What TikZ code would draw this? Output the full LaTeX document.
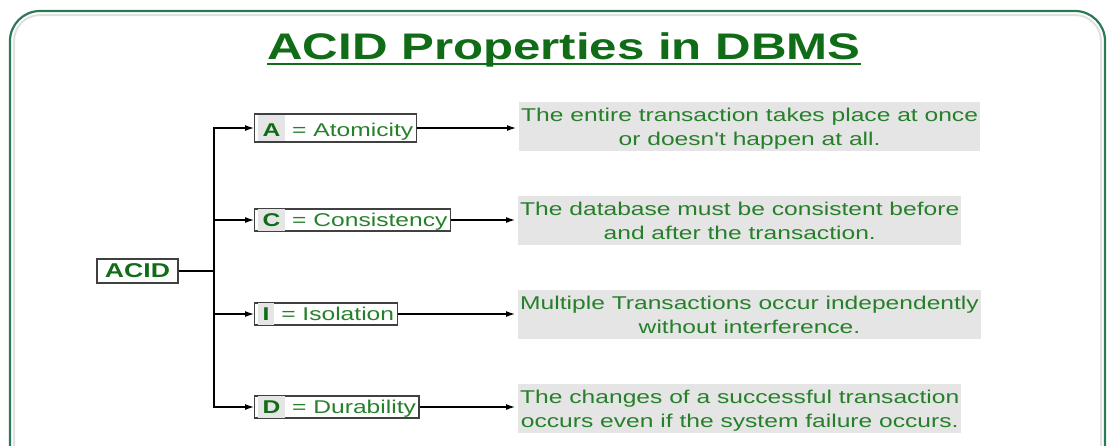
\documentclass[tikz,border=0pt]{standalone}
\usepackage{fontspec}
\setmainfont{Liberation Sans}[FakeStretch=1.33, Ligatures=TeXOff]
\usetikzlibrary{arrows.meta}

\definecolor{titlegreen}{RGB}{16,108,22}
\definecolor{txtgreen}{RGB}{38,128,42}
\definecolor{framegreen}{RGB}{42,122,86}
\definecolor{descgray}{RGB}{229,229,229}

\newcommand{\keyletter}[2][20pt]{{\setlength{\fboxsep}{1pt}\colorbox{descgray}{\rule[-4pt]{0pt}{#1}\hspace{4pt}\textcolor{titlegreen}{\textbf{#2}}\hspace{4pt}}}}

\begin{document}
\begin{tikzpicture}[x=1pt,y=-1pt]
\tikzset{ >={Latex[length=9pt,width=6pt]}, font=\fontsize{18.5}{24}\selectfont,
  keybox/.style={draw=black!75, line width=1.2pt, inner xsep=3pt, inner ysep=0pt, minimum height=22pt, text=txtgreen, anchor=west},
  descbox/.style={fill=descgray, align=center, inner xsep=2pt, inner ysep=0pt, minimum height=49pt, text depth=0pt, text=txtgreen, anchor=west},
}
\useasboundingbox (0,0) rectangle (1107,445);

% frame
\draw [black!12, line width=2pt, rounded corners=26pt] (14,470) -- (14,15) -- (1101,15) -- (1101,470);
\draw [framegreen, line width=2.2pt, rounded corners=30pt] (10,470) -- (10,11) -- (1105,11) -- (1105,470);

\node [font=\fontsize{37}{40}\selectfont\bfseries, text=titlegreen, inner sep=0pt, anchor=base] (title) at (564,59) {ACID Properties in DBMS};
\draw [titlegreen, line width=2.6pt] ([yshift=-5pt]title.base west) -- ([yshift=-5pt]title.base east);

\node [draw=black!75, line width=1.2pt, font=\fontsize{20}{24}\selectfont\bfseries, text=titlegreen, minimum width=81pt, minimum height=24pt, inner sep=0pt] (acid) at (137.5,271) {ACID};

\node [keybox, minimum height=28pt] (atom) at (254,128) {\keyletter[24pt]{A} = Atomicity};
\node [keybox] (cons) at (254,220) {\keyletter{C} = Consistency};
\node [keybox] (isol) at (254,314) {\keyletter{I} = Isolation};
\node [keybox] (dura) at (254,407) {\keyletter{D} = Durability};

\node [descbox] (atomtxt) at (519,126.5) {The entire transaction takes place at once\\or doesn't happen at all.};
\node [descbox] (constxt) at (518,220.5) {The database must be consistent before\\and after the transaction.};
\node [descbox] (isoltxt) at (518,314.5) {Multiple Transactions occur independently\\without interference.};
\node [descbox] (duratxt) at (518,408.5) {The changes of a successful transaction\\occurs even if the system failure occurs.};

\coordinate (fork) at (214,271);
\draw [line width=1.2pt] (acid) -- (fork);
\foreach \n in {atom,cons,isol,dura}
  \draw [->, line width=1.2pt] (fork) |- (\n);

\draw [->, line width=1.2pt, shorten >=3pt] (atom) -- (atom -| atomtxt.west);
\draw [->, line width=1.2pt, shorten >=3pt] (cons) -- (cons -| constxt.west);
\draw [->, line width=1.2pt, shorten >=3pt] (isol) -- (isol -| isoltxt.west);
\draw [->, line width=1.2pt, shorten >=3pt] (dura) -- (dura -| duratxt.west);

\end{tikzpicture}
\end{document}
